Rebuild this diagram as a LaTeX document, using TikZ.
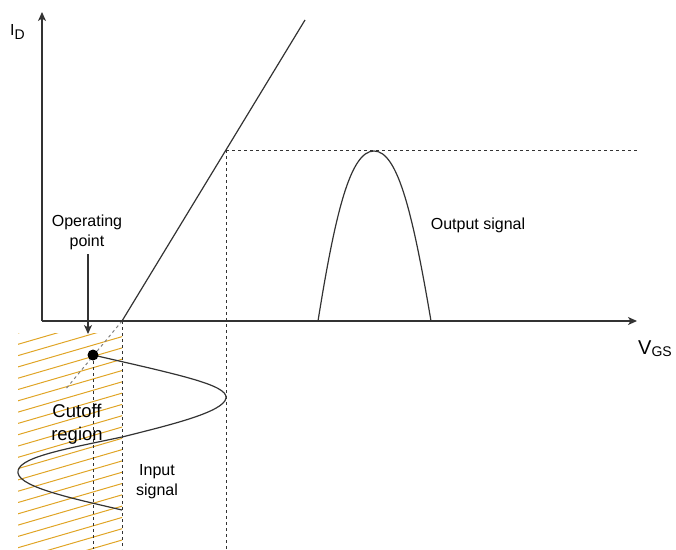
\documentclass[tikz,border=0pt]{standalone}
\usepackage{fontspec}
\setmainfont{Liberation Sans}
\usetikzlibrary{arrows.meta}
\definecolor{hatch}{HTML}{E0A526}
\definecolor{ink}{HTML}{333333}
\begin{document}
\begin{tikzpicture}[x=1pt,y=-1pt,
  axis/.style={ink,line width=1.3pt,-{Stealth[length=9pt,width=8pt,inset=2.5pt]}},
  curve/.style={ink,line width=1.2pt},
  guide/.style={ink,line width=1pt,dash pattern=on 3pt off 3pt},
  lbl/.style={inner sep=0pt,align=center,font=\fontsize{16}{20}\selectfont,text=black}]
\useasboundingbox (0,0) rectangle (676,549);
% coordinates
\coordinate (O) at (42,321);
\coordinate (ytip) at (42,12);
\coordinate (xtip) at (637,321);
\coordinate (th) at (122,321);
\coordinate (ltop) at (305,20);
\coordinate (q) at (226,150);
\coordinate (qr) at (637,150);
\coordinate (dotend) at (65,390);
\coordinate (op) at (93,355);
% hatched cutoff region
\begin{scope}
\clip (18,333) rectangle (122,549);
\foreach \k in {0,...,30} {
  \draw[hatch,line width=1pt] (18,{333+11.3*\k}) -- ++(110,-32);
}
\end{scope}
% guides
\draw[guide] (th) -- (th |- 0,549);
\draw[guide] (q) -- (q |- 0,549);
\draw[guide] (q) -- (qr);
\draw[guide] (op) -- (op |- 0,549);
\draw[gray,line width=1pt,dash pattern=on 3pt off 3pt] (th) -- (dotend);
% axes
\draw[axis] (O) -- (ytip);
\draw[axis] (O) -- (xtip);
% transfer line
\draw[curve] (th) -- (ltop);
% output signal
\draw[curve] (318,321) .. controls (335,215) and (350,151) .. (374,151)
  .. controls (398,151) and (413,215) .. (431,321);
% input signal
\draw[curve] (op) .. controls (180,375) and (228,385) .. (226,398)
  .. controls (224,412) and (170,425) .. (122,437)
  .. controls (60,450) and (16,458) .. (18,473)
  .. controls (20,488) and (80,500) .. (122,510);
\fill[black] (op) circle (5.5);
% labels
\node[lbl,anchor=west] (id) at (10,32) {I\raisebox{-4pt}{\fontsize{14}{14}\selectfont D}};
\node[lbl,anchor=west] (vgs) at (638,349) {\fontsize{20}{20}\selectfont V\raisebox{-2pt}{\fontsize{14}{14}\selectfont GS}};
\node[lbl] (optext) at (87,232) {Operating\\point};
\coordinate (optip) at (88,334);
\draw[ink,line width=1.2pt,-{Stealth[length=9pt,width=8pt,inset=2.5pt]}] (88,254) -- (optip);
\node[lbl] (outtext) at (478,225) {Output signal};
\node[lbl,font=\fontsize{18.5}{23}\selectfont] (cut) at (77,424) {Cutoff\\region};
\node[lbl] (intext) at (157,482) {Input\\signal};
\end{tikzpicture}
\end{document}
